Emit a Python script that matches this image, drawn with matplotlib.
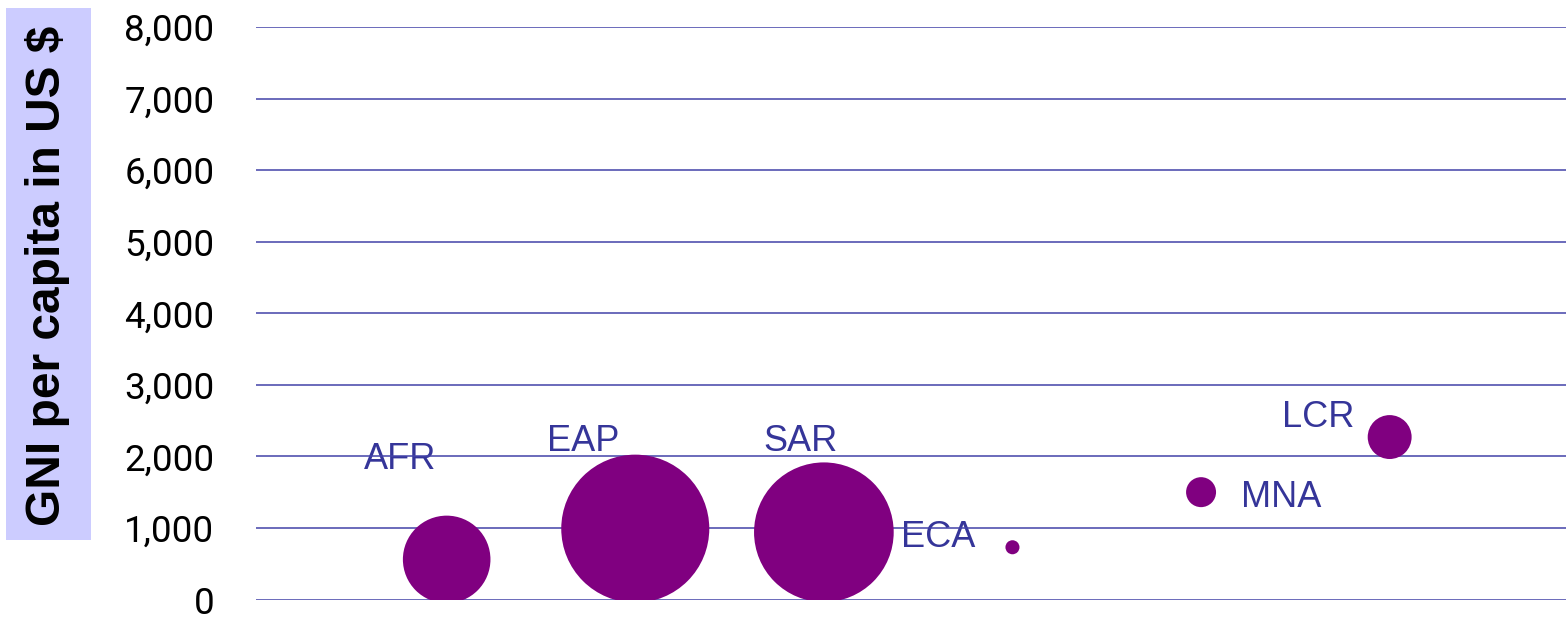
import matplotlib
matplotlib.use("Agg")
import matplotlib.pyplot as plt
from matplotlib.patches import Rectangle
from matplotlib.ticker import FuncFormatter

# Regions, their position along the x axis, GNI per capita and relative bubble size
regions = ["AFR", "EAP", "SAR", "ECA", "MNA", "LCR"]
x_pos = [1, 2, 3, 4, 5, 6]
gni = [560, 990, 940, 730, 1500, 2270]
bubble_size = [35, 100, 89, 0.9, 4.1, 8.8]

# label offsets (in data units) relative to each bubble centre
label_dx = [-0.44, -0.47, -0.32, -0.59, 0.21, -0.57]
label_dy = [1258, 1080, 1130, -3, -213, 136]

y_ticks = [0, 1000, 2000, 3000, 4000, 5000, 6000, 7000, 8000]

W, H = 1566, 618
fig = plt.figure(figsize=(W / 100, H / 100), dpi=100)
ax = fig.add_axes([256 / W, (H - 599.5) / H, (W - 256) / W, (599.5 - 27) / H])

grid_color = "#4343a8"
text_color = "#353599"
bubble_color = "#800080"

scale = 113.6
ax.scatter(x_pos, gni, s=[b * scale for b in bubble_size], color=bubble_color,
           edgecolors="none", zorder=3)

for name, x, y, dx, dy in zip(regions, x_pos, gni, label_dx, label_dy):
    ax.text(x + dx, y + dy, name, color=text_color, fontsize=26,
            family="Liberation Sans", ha="left", va="baseline", zorder=1)

ax.set_xlim(-0.011, 6.935)
ax.set_ylim(0, 8000)
ax.set_yticks(y_ticks)
ax.yaxis.set_major_formatter(FuncFormatter(lambda v, p: f"{int(v):,}"))
ax.set_xticks([])
ax.tick_params(axis="y", length=0, pad=30, labelsize=26.5)
for lbl in ax.get_yticklabels():
    lbl.set_family("Roboto")
ax.grid(axis="y", color=grid_color, linewidth=1.1, zorder=2)
ax.set_axisbelow(False)
for sp in ax.spines.values():
    sp.set_visible(False)

# shaded y-axis title
fig.patches.append(Rectangle((6 / W, (H - 540) / H), 85 / W, 532 / H,
                             transform=fig.transFigure, facecolor="#ccccff",
                             edgecolor="none", zorder=0))
fig.text(48 / W, (H - 276) / H, "GNI per capita in US $", rotation=90,
         ha="center", va="center", fontsize=34.5, fontweight="bold",
         family="Liberation Sans", color="black")

fig.savefig("out.png", dpi=100)
